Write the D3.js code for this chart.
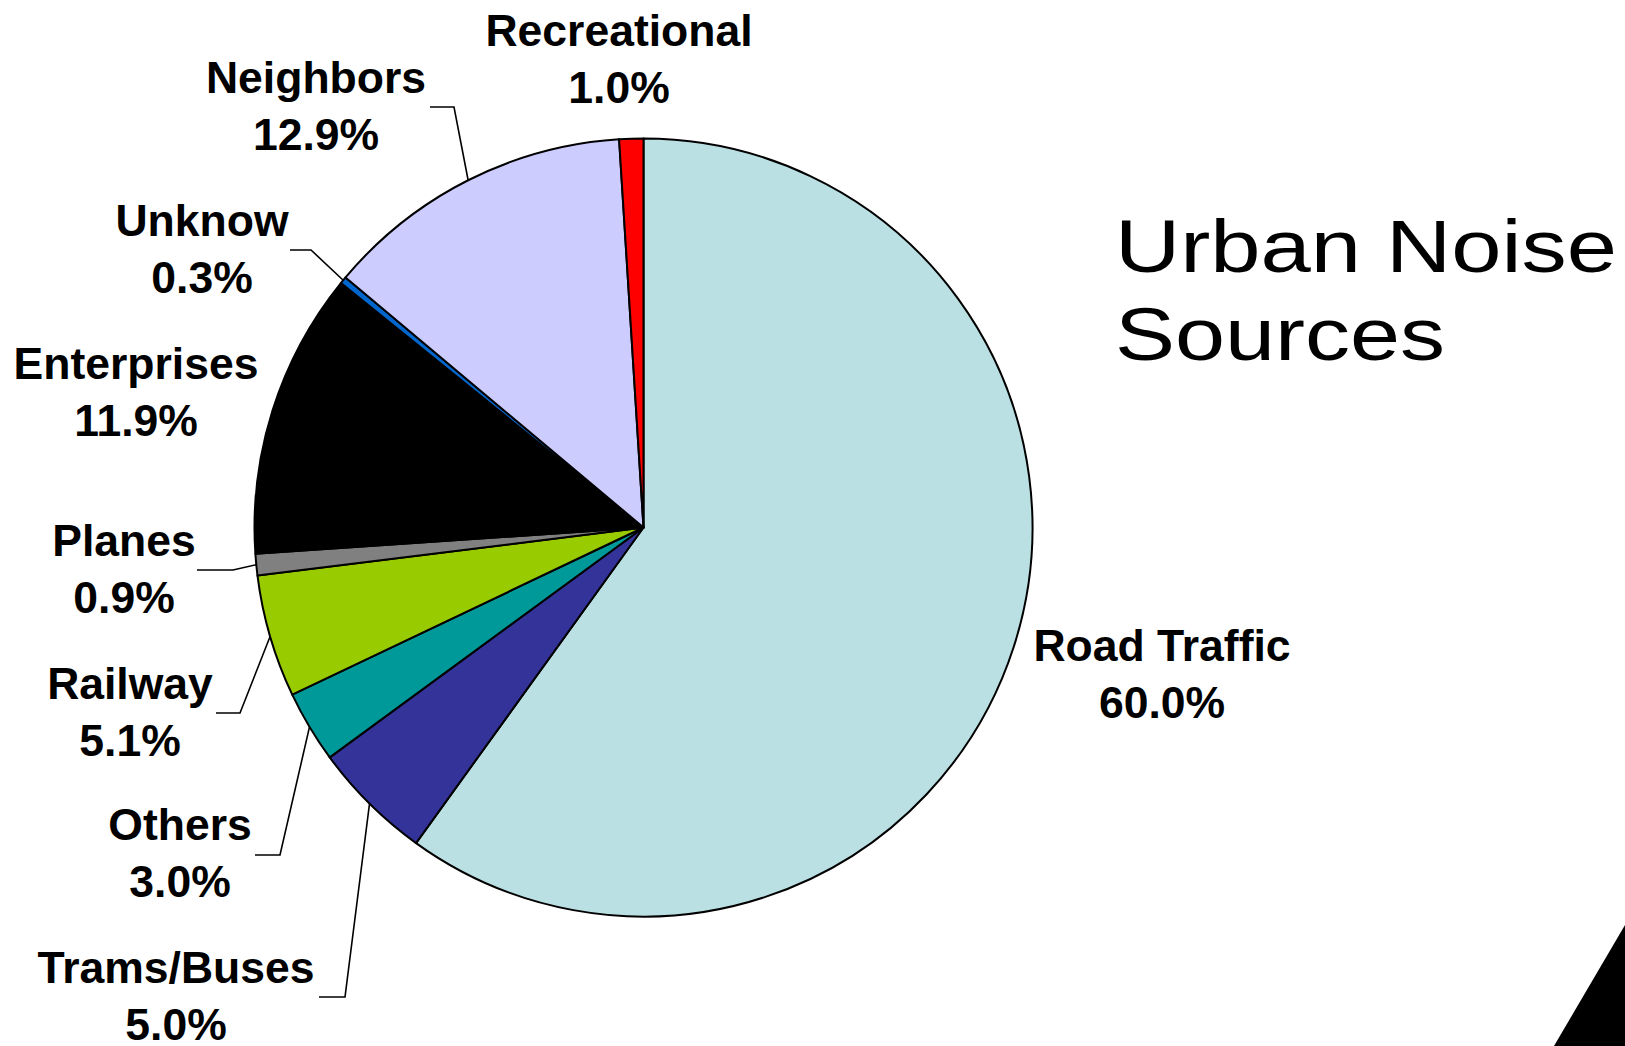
<!DOCTYPE html>
<html>
<head>
<meta charset="utf-8">
<script src="https://cdn.jsdelivr.net/npm/d3@7"></script>
<style>
  html, body { margin: 0; padding: 0; background: #ffffff; }
  svg { display: block; }
</style>
</head>
<body>
<svg id="chart" width="1625" height="1046"></svg>
<script>
// Urban noise sources, share of complaints (%), clockwise from 12 o'clock
const categories = ["Road Traffic", "Trams/Buses", "Others", "Railway", "Planes",
                    "Enterprises", "Unknow", "Neighbors", "Recreational"];
const shares = [60.0, 5.0, 3.0, 5.1, 0.9, 11.9, 0.3, 12.9, 1.0];
const sliceColors = ["#BBE0E3", "#333399", "#009999", "#99CC00", "#808080",
                     "#000000", "#0066CC", "#CCCCFF", "#FF0000"];
const titleLines = ["Urban Noise", "Sources"];

// Label placement: centre x and first baseline of each two-line label,
// plus the elbow and end of the leader line where one is drawn.
const labelLayout = {
  "Road Traffic": { x: 1162, y: 661 },
  "Trams/Buses":  { x: 176,  y: 983, elbow: [345, 997], end: [319, 997] },
  "Others":       { x: 180,  y: 840, elbow: [280, 855], end: [255, 855] },
  "Railway":      { x: 130,  y: 699, elbow: [240, 713], end: [216, 713] },
  "Planes":       { x: 124,  y: 556, elbow: [233, 570], end: [197, 570] },
  "Enterprises":  { x: 136,  y: 379 },
  "Unknow":       { x: 202,  y: 236, elbow: [311, 250], end: [290, 250] },
  "Neighbors":    { x: 316,  y: 93,  elbow: [454, 107], end: [430, 107] },
  "Recreational": { x: 619,  y: 46 }
};

const svg = d3.select("#chart");
const cx = 643.5, cy = 527.5, radius = 389;
const lineGap = 57;

const data = categories.map((c, i) => ({ name: c, value: shares[i], color: sliceColors[i] }));

const pie = d3.pie().sort(null).value(d => d.value).startAngle(0).endAngle(2 * Math.PI);
const arcs = pie(data);
const arc = d3.arc().innerRadius(0).outerRadius(radius);
const rim = d3.arc().innerRadius(radius).outerRadius(radius);

const g = svg.append("g").attr("transform", `translate(${cx},${cy})`);

g.selectAll("path.slice")
  .data(arcs)
  .join("path")
  .attr("class", "slice")
  .attr("d", arc)
  .attr("fill", d => d.data.color)
  .attr("stroke", "#000")
  .attr("stroke-width", 2)
  .attr("stroke-linejoin", "round");

// Leader lines from the rim midpoint of a slice to its label
const leaders = svg.append("g")
  .attr("fill", "none")
  .attr("stroke", "#000")
  .attr("stroke-width", 1.6);

arcs.forEach(a => {
  const lay = labelLayout[a.data.name];
  if (!lay.elbow) return;
  const [px, py] = rim.centroid(a);
  leaders.append("polyline")
    .attr("points", [[cx + px, cy + py], lay.elbow, lay.end].map(p => p.join(",")).join(" "));
});

// Category labels with their percentage
const labels = svg.append("g")
  .attr("font-family", "'Liberation Sans', Arial, Helvetica, sans-serif")
  .attr("font-weight", "bold")
  .attr("font-size", 44.5)
  .attr("text-anchor", "middle")
  .attr("fill", "#000");

arcs.forEach(a => {
  const lay = labelLayout[a.data.name];
  const t = labels.append("text").attr("x", lay.x).attr("y", lay.y);
  t.append("tspan").attr("x", lay.x).text(a.data.name);
  t.append("tspan").attr("x", lay.x).attr("dy", lineGap).text(d3.format(".1f")(a.data.value) + "%");
});

// Chart title, wide light sans
const title = svg.append("g")
  .attr("font-family", "'Liberation Sans', Arial, Helvetica, sans-serif")
  .attr("font-size", 74)
  .attr("fill", "#000");
title.append("text")
  .attr("x", 1115).attr("y", 272)
  .attr("textLength", 502).attr("lengthAdjust", "spacingAndGlyphs")
  .text(titleLines[0]);
title.append("text")
  .attr("x", 1115).attr("y", 360)
  .attr("textLength", 330).attr("lengthAdjust", "spacingAndGlyphs")
  .text(titleLines[1]);

// Decorative corner wedge
svg.append("path")
  .attr("d", "M1625,925 L1554,1046 L1625,1046 Z")
  .attr("fill", "#000");
</script>
</body>
</html>
